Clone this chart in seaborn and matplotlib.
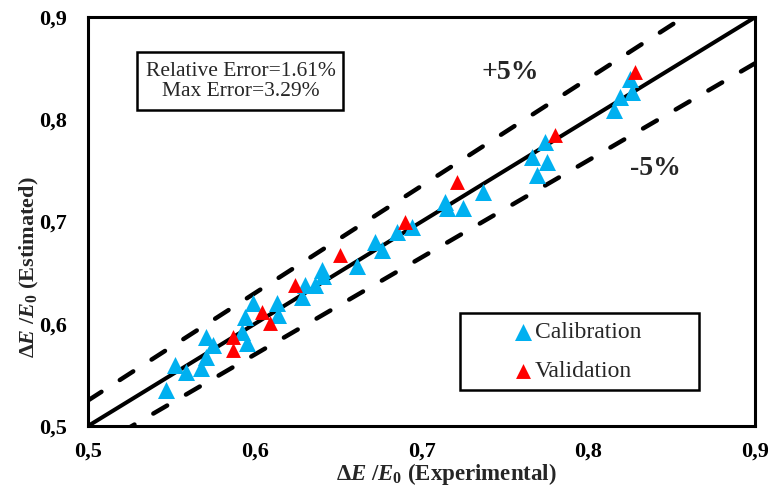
import matplotlib
matplotlib.use("Agg")
import matplotlib.pyplot as plt
import seaborn as sns
import pandas as pd
import numpy as np
from matplotlib.patches import Rectangle

# ---- data ----
cal_x = [0.547, 0.552, 0.559, 0.568, 0.571, 0.571, 0.575, 0.592, 0.595, 0.594,
         0.599, 0.613, 0.614, 0.628, 0.630, 0.636, 0.640, 0.641, 0.661, 0.672,
         0.676, 0.685, 0.694, 0.714, 0.715, 0.725, 0.737, 0.766, 0.769, 0.774,
         0.775, 0.815, 0.819, 0.826, 0.825]
cal_y = [0.535, 0.560, 0.553, 0.557, 0.568, 0.587, 0.579, 0.592, 0.581, 0.607,
         0.620, 0.620, 0.609, 0.626, 0.638, 0.638, 0.653, 0.647, 0.657, 0.680,
         0.672, 0.690, 0.695, 0.719, 0.713, 0.713, 0.729, 0.763, 0.746, 0.778,
         0.758, 0.809, 0.822, 0.827, 0.839]
val_x = [0.587, 0.587, 0.604, 0.609, 0.624, 0.651, 0.690, 0.721, 0.780, 0.828]
val_y = [0.587, 0.574, 0.612, 0.601, 0.638, 0.667, 0.700, 0.739, 0.785, 0.846]

ticks = [0.5, 0.6, 0.7, 0.8, 0.9]
tick_labels = ["0,5", "0,6", "0,7", "0,8", "0,9"]
band = 0.05
info_text = "Relative Error=1.61%\nMax Error=3.29%"

sns.set_style("white")
plt.rcParams["font.family"] = ["Liberation Serif", "DejaVu Serif"]
plt.rcParams["mathtext.fontset"] = "custom"
plt.rcParams["mathtext.rm"] = "Liberation Serif:bold"
plt.rcParams["mathtext.it"] = "Liberation Serif:italic:bold"
plt.rcParams["mathtext.bf"] = "Liberation Serif:bold"

fig = plt.figure(figsize=(7.68, 4.88), dpi=100)
ax = fig.add_axes([0.1146, 0.127, 0.869, 0.838])

# reference lines
xl = np.array([ticks[0], ticks[-1]])
ax.plot(xl, xl, color="black", lw=2.9, zorder=2, solid_capstyle="butt")
for f in (1 + band, 1 - band):
    ax.plot(xl, xl * f, color="black", lw=3.2, ls=(0, (3.6, 4.9)),
            dash_capstyle="round", zorder=2)

cal = pd.DataFrame({"x": cal_x, "y": cal_y})
val = pd.DataFrame({"x": val_x, "y": val_y})
sns.scatterplot(data=cal, x="x", y="y", marker="^", s=150, color="#00B0F0",
                linewidth=0, label="Calibration", ax=ax, zorder=3)
sns.scatterplot(data=val, x="x", y="y", marker="^", s=115, color="#FF0000",
                linewidth=0, label="Validation", ax=ax, zorder=4)

ax.set_xlim(ticks[0], ticks[-1])
ax.set_ylim(ticks[0], ticks[-1])
ax.set_xticks(ticks)
ax.set_yticks(ticks)
ax.set_xticklabels(tick_labels, fontsize=16, fontweight="bold")
ax.set_yticklabels(tick_labels, fontsize=16, fontweight="bold")
ax.tick_params(direction="out", length=5, width=1.2, colors="black")
ax.tick_params(axis="x", pad=6.0)
ax.tick_params(axis="y", pad=10)
for s in ax.spines.values():
    s.set_linewidth(2.2)
    s.set_color("black")

ax.set_xlabel(r"$\Delta E$ /$E_0$ (Experimental)", fontsize=16.5, fontweight="bold")
ax.xaxis.set_label_coords(0.537, -0.085)
ax.set_ylabel(r"$\Delta E$ /$E_0$ (Estimated)", fontsize=16, fontweight="bold")
ax.yaxis.set_label_coords(-0.07, 0.389)

# info box
ax.add_patch(Rectangle((0.073, 0.773), 0.309, 0.141, transform=ax.transAxes,
                       fill=True, facecolor="white", edgecolor="black", lw=1.8, zorder=5))
ax.text(0.229, 0.843, info_text, transform=ax.transAxes, ha="center", va="center",
        fontsize=15.5, linespacing=1.05, zorder=6)

ax.text(0.753, 0.846, "+5%", fontsize=20, fontweight="bold", ha="center", va="center")
ax.text(0.840, 0.752, "-5%", fontsize=20, fontweight="bold", ha="center", va="center")

# legend
ax.add_patch(Rectangle((0.558, 0.088), 0.357, 0.188, transform=ax.transAxes,
                       fill=True, facecolor="white", edgecolor="black", lw=1.8, zorder=5))
leg = ax.legend(loc="center", bbox_to_anchor=(0.732, 0.181), frameon=False,
                fontsize=17, handlelength=1.0, handletextpad=0.0,
                labelspacing=0.75, borderpad=0.2, markerscale=1.0)
leg.set_zorder(6)

fig.savefig("out.png", dpi=100)
